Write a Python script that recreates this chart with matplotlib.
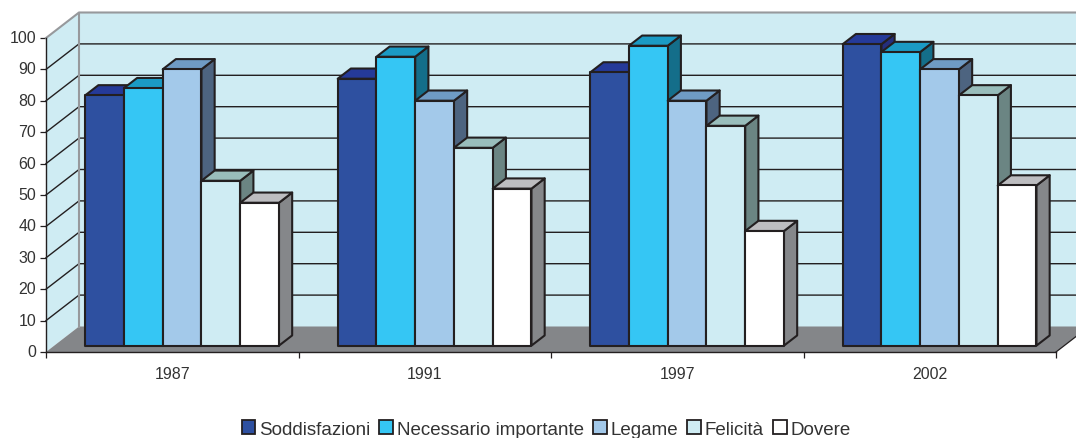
import matplotlib
matplotlib.use("Agg")
import matplotlib.pyplot as plt
from matplotlib.patches import Polygon, Patch
from matplotlib.transforms import ScaledTranslation

plt.rcParams['font.family'] = ['Liberation Sans', 'DejaVu Sans']

years = ['1987', '1991', '1997', '2002']
yticks = list(range(0, 101, 10))
soddisfazioni = [79.7, 85, 87, 96]
necessario = [82, 92, 95.5, 93.5]
legame = [88, 78, 78, 88]
felicita = [52.5, 63, 70, 79.7]
dovere = [45.5, 50, 36.5, 51]
names = ['Soddisfazioni', 'Necessario importante', 'Legame', 'Felicità', 'Dovere']
series = [soddisfazioni, necessario, legame, felicita, dovere]

front = ['#2E50A0', '#35C6F4', '#A3C9EA', '#CFECF3', '#FFFFFF']
top = ['#253A99', '#1B9AC4', '#6F9BC4', '#99BDBB', '#BDBDC0']
side = ['#252E7C', '#146E8A', '#4D6480', '#6B8583', '#85878A']
EDGE = '#231F20'
WALL = '#CFECF3'
FLOOR = '#848689'
WALLEDGE = '#97999C'
TEXT = '#333333'

W, H = 1076, 439
fig = plt.figure(figsize=(W / 100, H / 100), dpi=100)
ax = fig.add_axes([46 / W, (H - 353) / H, 1010 / W, 314 / H])
ax.set_xlim(0, len(years))
ax.set_ylim(0, 100)

# depth projection, in data units per full depth of the box
DX = 33 / 252.5
DY = 25.5 / 3.14
D_FRONT, D_BACK = 0.25, 0.65
START, BW = 0.1225, 0.1535


def P(x, y, d=0.0):
    return (x + d * DX, y + d * DY)


def poly(points, fc, ec='none', lw=0.0, z=1):
    ax.add_patch(Polygon(points, closed=True, facecolor=fc, edgecolor=ec, linewidth=lw,
                         joinstyle='round', clip_on=False, zorder=z))


n = len(years)
# walls and floor
poly([P(0, 0, 1), P(n, 0, 1), P(n, 100, 1), P(0, 100, 1)], WALL, z=1)
poly([P(0, 0), P(0, 0, 1), P(0, 100, 1), P(0, 100)], WALL, z=1)
poly([P(0, 0), P(n, 0), P(n, 0, 1), P(0, 0, 1)], FLOOR, z=1.5)
for t in yticks[1:-1]:
    ax.plot(*zip(P(0, t), P(0, t, 1), P(n, t, 1)), color=EDGE, lw=1.0, clip_on=False, zorder=2)
ax.plot(*zip(P(0, 100), P(0, 100, 1), P(n, 100, 1)), color=WALLEDGE, lw=1.5,
        clip_on=False, zorder=2)
ax.plot(*zip(P(0, 0, 1), P(0, 100, 1)), color=WALLEDGE, lw=1.5, clip_on=False, zorder=2)
ax.plot(*zip(P(n, 0), P(n, 0, 1)), color=EDGE, lw=0.9, clip_on=False, zorder=2)

# bars
z = 3
for g in range(n):
    for s, vals in enumerate(series):
        v = vals[g]
        x0 = g + START + s * BW
        x1 = x0 + BW
        poly([P(x1, 0, D_FRONT), P(x1, 0, D_BACK), P(x1, v, D_BACK), P(x1, v, D_FRONT)],
             side[s], EDGE, 1.5, z)
        poly([P(x0, v, D_FRONT), P(x1, v, D_FRONT), P(x1, v, D_BACK), P(x0, v, D_BACK)],
             top[s], EDGE, 1.5, z)
        poly([P(x0, 0, D_FRONT), P(x1, 0, D_FRONT), P(x1, v, D_FRONT), P(x0, v, D_FRONT)],
             front[s], EDGE, 1.5, z)
        z += 1

# axes
ax.patch.set_visible(False)
for k in ('top', 'right'):
    ax.spines[k].set_visible(False)
for k in ('left', 'bottom'):
    ax.spines[k].set_color(EDGE)
    ax.spines[k].set_linewidth(1.0)
    ax.spines[k].set_zorder(100)
ax.set_yticks(yticks)
ax.set_xticks([i + 0.5 for i in range(n)], years)
ax.set_xticks(range(n + 1), minor=True)
ax.tick_params(axis='y', length=4, width=0.9, color=EDGE, labelcolor=TEXT, labelsize=11.5, pad=3)
ax.tick_params(axis='x', which='major', length=0, labelcolor=TEXT, labelsize=11.5, pad=10)
ax.tick_params(axis='x', which='minor', length=4, width=0.9, color=EDGE)
for lab in ax.get_yticklabels():
    lab.set_transform(lab.get_transform() + ScaledTranslation(0, 2 / 100, fig.dpi_scale_trans))

handles = [Patch(facecolor=c, edgecolor=EDGE, linewidth=1.3) for c in front]
fig.legend(handles, names, loc='center', bbox_to_anchor=(546 / W, 1 - 430 / H), ncols=5,
           frameon=False, fontsize=13.5, labelcolor=TEXT, handlelength=0.72, handleheight=0.72,
           handletextpad=0.2, columnspacing=0.5, borderpad=0)

fig.savefig('out.png', dpi=100)
